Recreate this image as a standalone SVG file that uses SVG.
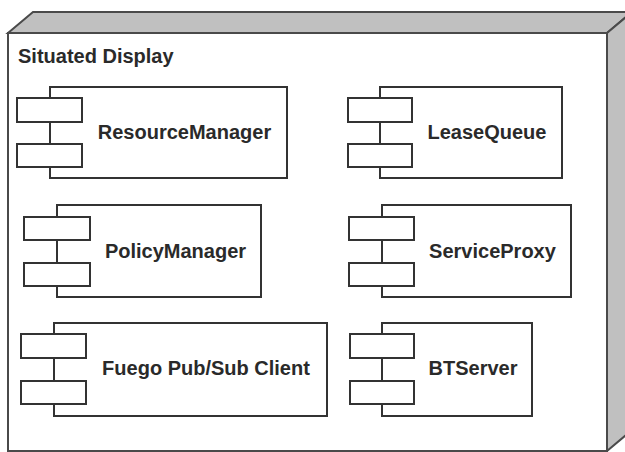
<svg xmlns="http://www.w3.org/2000/svg" width="625" height="452" viewBox="0 0 625 452">
<style>
.shade{fill:#c0c0c0;stroke:#4a4a4a;stroke-width:2;stroke-linejoin:miter}
.front{fill:#ffffff;stroke:#4a4a4a;stroke-width:2}
.body{fill:#ffffff;stroke:#333333;stroke-width:2}
.port{fill:#ffffff;stroke:#333333;stroke-width:2}
.lbl{font-family:"Liberation Sans",Arial,sans-serif;font-weight:bold;font-size:20px;fill:#2a2a2a;text-anchor:middle}
.title{font-family:"Liberation Sans",Arial,sans-serif;font-weight:bold;font-size:20px;fill:#2a2a2a}
</style>
<rect width="625" height="452" fill="#ffffff"/>
<g id="situated-display">
  <polygon class="shade" points="8,33 33,12 632,12 607,33"/>
  <polygon class="shade" points="607,33 632,12 632,430 607,451"/>
  <rect class="front" x="8" y="33" width="599" height="418"/>
  <text class="title" x="18" y="63">Situated Display</text>
</g>
<g id="resource-manager">
  <rect class="body" x="50" y="87" width="237" height="91"/>
  <rect class="port" x="17" y="98" width="65" height="24"/>
  <rect class="port" x="17" y="144" width="65" height="23"/>
  <text class="lbl" x="184.5" y="139">ResourceManager</text>
</g>
<g id="lease-queue">
  <rect class="body" x="380" y="87" width="182" height="91"/>
  <rect class="port" x="348" y="98" width="64" height="24"/>
  <rect class="port" x="348" y="144" width="64" height="23"/>
  <text class="lbl" x="487" y="139">LeaseQueue</text>
</g>
<g id="policy-manager">
  <rect class="body" x="57" y="205" width="204" height="92"/>
  <rect class="port" x="24" y="217" width="66" height="23"/>
  <rect class="port" x="24" y="263" width="66" height="23"/>
  <text class="lbl" x="175.5" y="258">PolicyManager</text>
</g>
<g id="service-proxy">
  <rect class="body" x="382" y="205" width="189" height="92"/>
  <rect class="port" x="349" y="217" width="65" height="23"/>
  <rect class="port" x="349" y="263" width="65" height="23"/>
  <text class="lbl" x="492.5" y="258">ServiceProxy</text>
</g>
<g id="fuego-client">
  <rect class="body" x="54" y="323" width="273" height="93"/>
  <rect class="port" x="21" y="334" width="65" height="24"/>
  <rect class="port" x="21" y="381" width="65" height="23"/>
  <text class="lbl" x="206" y="375">Fuego Pub/Sub Client</text>
</g>
<g id="bt-server">
  <rect class="body" x="382" y="323" width="150" height="93"/>
  <rect class="port" x="350" y="334" width="64" height="24"/>
  <rect class="port" x="350" y="381" width="64" height="23"/>
  <text class="lbl" x="473" y="375">BTServer</text>
</g>
<g id="connectors"></g>
</svg>
